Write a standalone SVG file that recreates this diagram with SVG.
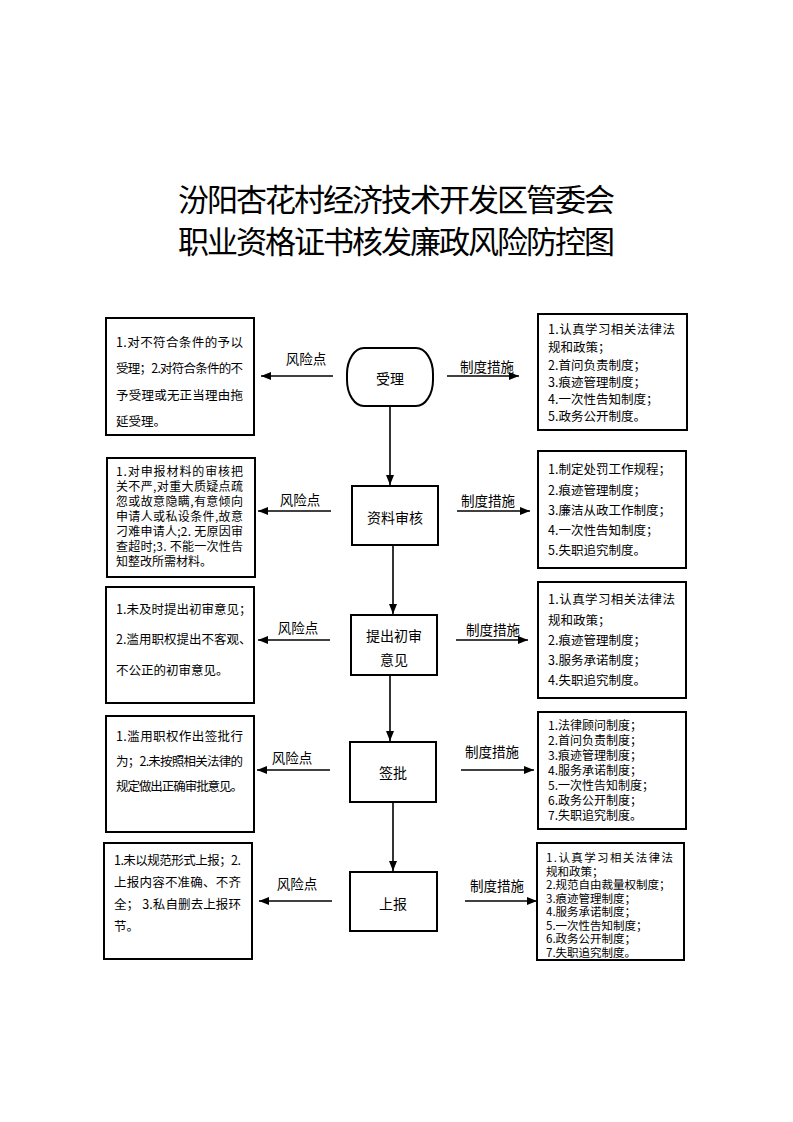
<svg xmlns="http://www.w3.org/2000/svg" width="793" height="1122" viewBox="0 0 793 1122">
<style>
text{font-family:"Noto Sans CJK SC","Noto Sans",sans-serif;fill:#000;}
.title{font-size:31px;}
.box{fill:#fff;stroke:#000;stroke-width:2;}
.t{font-size:12.5px;dominant-baseline:central;}
.d{font-size:12px;dominant-baseline:central;}
.s{font-size:12px;dominant-baseline:central;}
.x{font-size:11.5px;dominant-baseline:central;}
.c{font-size:14px;text-anchor:middle;dominant-baseline:central;}
.lab{font-size:13.5px;text-anchor:middle;dominant-baseline:central;}
.ln{stroke:#000;stroke-width:1.6;fill:none;marker-end:url(#ah);}
</style>
<defs>
<marker id="ah" markerUnits="userSpaceOnUse" markerWidth="10" markerHeight="8" refX="10" refY="4" orient="auto">
<path d="M0,0 L10,4 L0,8 z" fill="#000"/>
</marker>
</defs>
<rect width="793" height="1122" fill="#fff"/>
<g id="title">
<text class="title" x="178" y="211" textLength="437" lengthAdjust="spacing">汾阳杏花村经济技术开发区管委会</text>
<text class="title" x="178" y="253" textLength="437" lengthAdjust="spacing">职业资格证书核发廉政风险防控图</text>
</g>
<g id="connectors">
<line class="ln" x1="390" y1="407" x2="390" y2="485"/>
<line class="ln" x1="393" y1="545" x2="393" y2="614"/>
<line class="ln" x1="390" y1="675" x2="390" y2="741"/>
<line class="ln" x1="393" y1="802" x2="393" y2="871"/>
<line class="ln" x1="333" y1="376" x2="261" y2="376"/>
<line class="ln" x1="447" y1="376" x2="519" y2="376"/>
<line class="ln" x1="331" y1="511" x2="258" y2="511"/>
<line class="ln" x1="457" y1="511" x2="530" y2="511"/>
<line class="ln" x1="330" y1="640" x2="258" y2="640"/>
<line class="ln" x1="456" y1="640" x2="528" y2="640"/>
<line class="ln" x1="330" y1="770" x2="257" y2="770"/>
<line class="ln" x1="461" y1="770" x2="534" y2="770"/>
<line class="ln" x1="332" y1="901" x2="259" y2="901"/>
<line class="ln" x1="465" y1="901" x2="537" y2="901"/>
<text class="lab" x="306" y="358">风险点</text>
<text class="lab" x="487" y="366">制度措施</text>
<text class="lab" x="300" y="499">风险点</text>
<text class="lab" x="488" y="500">制度措施</text>
<text class="lab" x="298" y="627">风险点</text>
<text class="lab" x="493" y="629">制度措施</text>
<text class="lab" x="292" y="757">风险点</text>
<text class="lab" x="492" y="751">制度措施</text>
<text class="lab" x="297" y="883">风险点</text>
<text class="lab" x="497" y="885">制度措施</text>
</g>
<g id="n-shouli">
<rect class="box" x="347" y="348" width="86" height="58" rx="17" ry="26"/>
<text class="c" x="390" y="378">受理</text>
</g>
<g id="n-ziliao">
<rect class="box" x="352" y="486" width="86" height="59"/>
<text class="c" x="395" y="517">资料审核</text>
</g>
<g id="n-chushen">
<rect class="box" x="351" y="615" width="86" height="60"/>
<text class="c" x="394" y="635">提出初审</text>
<text class="c" x="394" y="659">意见</text>
</g>
<g id="n-qianpi">
<rect class="box" x="350" y="742" width="86" height="60"/>
<text class="c" x="393" y="772">签批</text>
</g>
<g id="n-shangbao">
<rect class="box" x="350" y="872" width="87" height="59"/>
<text class="c" x="393" y="903">上报</text>
</g>
<g id="risk1">
<rect class="box" x="106" y="318" width="148" height="117"/>
<text class="t" x="116" y="341" textLength="127" lengthAdjust="spacing">1.对不符合条件的予以</text>
<text class="t" x="116" y="367" textLength="127" lengthAdjust="spacing">受理；2.对符合条件的不</text>
<text class="t" x="116" y="394" textLength="127" lengthAdjust="spacing">予受理或无正当理由拖</text>
<text class="t" x="116" y="420">延受理。</text>
</g>
<g id="risk2">
<rect class="box" x="107" y="458" width="148" height="119"/>
<text class="d" x="116" y="470" textLength="127" lengthAdjust="spacing">1.对申报材料的审核把</text>
<text class="d" x="116" y="485" textLength="127" lengthAdjust="spacing">关不严,对重大质疑点疏</text>
<text class="d" x="116" y="500" textLength="127" lengthAdjust="spacing">忽或故意隐瞒,有意倾向</text>
<text class="d" x="116" y="515" textLength="127" lengthAdjust="spacing">申请人或私设条件,故意</text>
<text class="d" x="116" y="530" textLength="127" lengthAdjust="spacing">刁难申请人;2. 无原因审</text>
<text class="d" x="116" y="545" textLength="127" lengthAdjust="spacing">查超时;3. 不能一次性告</text>
<text class="d" x="116" y="560">知整改所需材料。</text>
</g>
<g id="risk3">
<rect class="box" x="106" y="587" width="148" height="116"/>
<text class="t" x="116" y="608">1.未及时提出初审意见；</text>
<text class="t" x="116" y="638">2.滥用职权提出不客观、</text>
<text class="t" x="116" y="669">不公正的初审意见。</text>
</g>
<g id="risk4">
<rect class="box" x="106" y="716" width="148" height="116"/>
<text class="t" x="116" y="735" textLength="127" lengthAdjust="spacing">1.滥用职权作出签批行</text>
<text class="t" x="116" y="760" textLength="127" lengthAdjust="spacing">为；2.未按照相关法律的</text>
<text class="t" x="116" y="785" textLength="127" lengthAdjust="spacing">规定做出正确审批意见。</text>
</g>
<g id="risk5">
<rect class="box" x="104" y="843" width="148" height="116"/>
<text class="t" x="114" y="859" textLength="127" lengthAdjust="spacing">1.未以规范形式上报；2.</text>
<text class="t" x="114" y="881" textLength="127" lengthAdjust="spacing">上报内容不准确、不齐</text>
<text class="t" x="114" y="903" textLength="127" lengthAdjust="spacing">全； 3.私自删去上报环</text>
<text class="t" x="114" y="925">节。</text>
</g>
<g id="measure1">
<rect class="box" x="538" y="314" width="149" height="116"/>
<text class="t" x="548" y="328" textLength="127" lengthAdjust="spacing">1.认真学习相关法律法</text>
<text class="t" x="548" y="346">规和政策；</text>
<text class="t" x="548" y="364">2.首问负责制度；</text>
<text class="t" x="548" y="381">3.痕迹管理制度；</text>
<text class="t" x="548" y="398">4.一次性告知制度；</text>
<text class="t" x="548" y="415">5.政务公开制度。</text>
</g>
<g id="measure2">
<rect class="box" x="538" y="451" width="148" height="117"/>
<text class="t" x="548" y="468">1.制定处罚工作规程；</text>
<text class="t" x="548" y="489">2.痕迹管理制度；</text>
<text class="t" x="548" y="509">3.廉洁从政工作制度；</text>
<text class="t" x="548" y="529">4.一次性告知制度；</text>
<text class="t" x="548" y="549">5.失职追究制度。</text>
</g>
<g id="measure3">
<rect class="box" x="538" y="582" width="148" height="116"/>
<text class="t" x="548" y="598" textLength="127" lengthAdjust="spacing">1.认真学习相关法律法</text>
<text class="t" x="548" y="619">规和政策；</text>
<text class="t" x="548" y="639">2.痕迹管理制度；</text>
<text class="t" x="548" y="659">3.服务承诺制度；</text>
<text class="t" x="548" y="679">4.失职追究制度。</text>
</g>
<g id="measure4">
<rect class="box" x="538" y="712" width="148" height="117"/>
<text class="s" x="548" y="724">1.法律顾问制度；</text>
<text class="s" x="548" y="739">2.首问负责制度；</text>
<text class="s" x="548" y="754">3.痕迹管理制度；</text>
<text class="s" x="548" y="769">4.服务承诺制度；</text>
<text class="s" x="548" y="784">5.一次性告知制度；</text>
<text class="s" x="548" y="799">6.政务公开制度；</text>
<text class="s" x="548" y="814">7.失职追究制度。</text>
</g>
<g id="measure5">
<rect class="box" x="537" y="843" width="147" height="117"/>
<text class="x" x="546" y="857" textLength="127" lengthAdjust="spacing">1.认真学习相关法律法</text>
<text class="x" x="546" y="870.5">规和政策；</text>
<text class="x" x="546" y="884">2.规范自由裁量权制度；</text>
<text class="x" x="546" y="897.5">3.痕迹管理制度；</text>
<text class="x" x="546" y="911">4.服务承诺制度；</text>
<text class="x" x="546" y="924.5">5.一次性告知制度；</text>
<text class="x" x="546" y="938">6.政务公开制度；</text>
<text class="x" x="546" y="951.5">7.失职追究制度。</text>
</g>
</svg>
